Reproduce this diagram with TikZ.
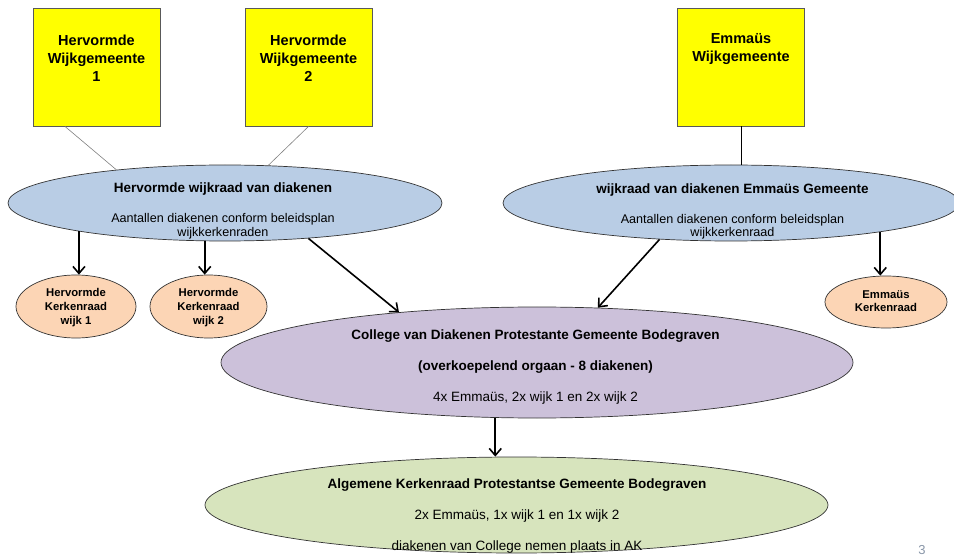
\documentclass[tikz,border=0pt]{standalone}
\usepackage{fontspec}
\setmainfont{Liberation Sans}
\usepackage{tikz}
\usetikzlibrary{shapes,arrows,arrows.meta,positioning,shapes.geometric,calc}

\definecolor{wgyellow}{RGB}{255,255,0}
\definecolor{raadblue}{RGB}{185,205,229}
\definecolor{collpurple}{RGB}{204,193,218}
\definecolor{kerkpeach}{RGB}{252,213,181}
\definecolor{akgreen}{RGB}{215,228,189}
\definecolor{pagegray}{RGB}{137,150,168}

\tikzset{
	wgbox/.style={shape=rectangle, draw=black!65, line width=.9pt, fill=wgyellow, minimum width=127pt, minimum height=118pt, inner sep=0pt},
	wgtxt/.style={align=center, inner sep=0pt, font=\bfseries\fontsize{14.5}{18}\selectfont},
	raad/.style={shape=ellipse, draw=black!80, line width=.7pt, inner sep=0pt},
	raadtxt/.style={align=center, inner sep=0pt, font=\fontsize{12.6}{13.5}\selectfont},
	kerk/.style={raad, fill=kerkpeach, minimum width=120pt, minimum height=63pt},
	kerktxt/.style={align=center, inner sep=0pt, font=\bfseries\fontsize{11.3}{14}\selectfont},
	bigtxt/.style={align=center, inner sep=0pt, font=\fontsize{13.5}{31}\selectfont},
	flow/.style={-{Straight Barb[length=7pt,width=12pt]}, line width=1.6pt},
	tak/.style={line width=.6pt, draw=black!50}
}

\begin{document}
\begin{tikzpicture}[x=1pt,y=-1pt]
	\useasboundingbox (0,0) rectangle (954,556);

	%wijkgemeenten
	\draw (96.5,67) node [wgbox] (wg1) {};
	\draw (308.5,67) node [wgbox] (wg2) {};
	\draw (741,67) node [wgbox] (wg3) {};
	\draw (96.5,58) node [wgtxt] (wg1txt) {Hervormde\\Wijkgemeente\\1};
	\draw (308.5,58) node [wgtxt] (wg2txt) {Hervormde\\Wijkgemeente\\2};
	\draw (741,49) node [wgtxt] (wg3txt) {Emmaüs\\Wijkgemeente};

	%wijkraden
	\draw (225,203) node [raad, fill=raadblue, minimum width=434pt, minimum height=76pt] (hwraad) {};
	\draw (731,203) node [raad, fill=raadblue, minimum width=456pt, minimum height=76pt] (ewraad) {};
	\draw (223,211) node [raadtxt] (hwtxt) {{\bfseries\fontsize{13.5}{13.5}\selectfont Hervormde wijkraad van diakenen}\\[16.5pt]Aantallen diakenen conform beleidsplan\\wijkkerkenraden};
	\draw (732.5,211.5) node [raadtxt] (ewtxt) {{\bfseries\fontsize{13.5}{13.5}\selectfont wijkraad van diakenen Emmaüs Gemeente}\\[16.5pt]Aantallen diakenen conform beleidsplan\\wijkkerkenraad};

	%kerkenraden
	\draw (76,306.5) node [kerk] (hk1) {};
	\draw (208.5,306.5) node [kerk, minimum width=117pt] (hk2) {};
	\draw (886,302) node [kerk, minimum width=122pt, minimum height=52pt] (ek) {};
	\draw (76,308) node [kerktxt] (hk1txt) {Hervormde\\Kerkenraad\\wijk 1};
	\draw (208.5,308) node [kerktxt] (hk2txt) {Hervormde\\Kerkenraad\\wijk 2};
	\draw (886,301) node [kerktxt, font=\bfseries\fontsize{11.3}{13}\selectfont] (ektxt) {Emmaüs\\Kerkenraad};

	%college en AK
	\draw (537,362.5) node [raad, fill=collpurple, minimum width=632pt, minimum height=111pt] (college) {};
	\draw (516.5,505) node [raad, fill=akgreen, minimum width=623pt, minimum height=96pt] (ak) {};
	\draw (535.5,367) node [bigtxt] (colltxt) {\textbf{College van Diakenen Protestante Gemeente Bodegraven}\\\textbf{(overkoepelend orgaan - 8 diakenen)}\\4x Emmaüs, 2x wijk 1 en 2x wijk 2};
	\draw (517,516) node [bigtxt] (aktxt) {\textbf{Algemene Kerkenraad Protestantse Gemeente Bodegraven}\\2x Emmaüs, 1x wijk 1 en 1x wijk 2\\diakenen van College nemen plaats in AK};

	%lijnen
	\draw [tak] ([xshift=-31.5pt]wg1.south) -- (hwraad.163);
	\draw [tak] (wg2.south) -- (hwraad.41);
	\draw [tak, draw=black] (wg3.south) -- (wg3.south |- ewraad.north);

	%pijlen
	\draw [flow] (hwraad.191) -- (hwraad.191 |- hk1.north);
	\draw [flow] (hwraad.242) -- (hwraad.242 |- hk2.north);
	\draw [flow] (hwraad.337) -- (college.160);
	\draw [flow] (ewraad.207) -- (college.42);
	\draw [flow] (ewraad.349) -- (ewraad.349 |- ek.north);
	\draw [flow] (college.233) -- (college.233 |- ak.north);

	%paginanummer
	\draw (922,550) node [font=\fontsize{13}{13}\selectfont, text=pagegray] (pnr) {3};
\end{tikzpicture}
\end{document}
